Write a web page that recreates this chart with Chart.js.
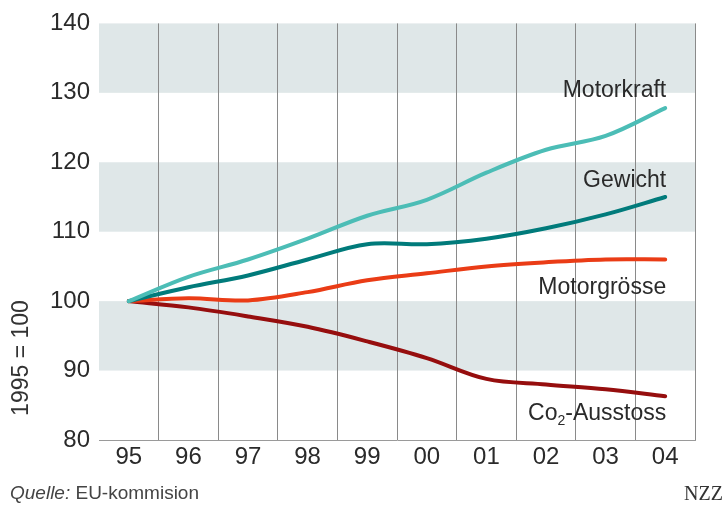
<!DOCTYPE html>
<html>
<head>
<meta charset="utf-8">
<script src="https://cdn.jsdelivr.net/npm/chart.js@4/dist/chart.umd.min.js"></script>
<style>
  html, body { margin: 0; padding: 0; background: #fff; }
  #c { display: block; }
</style>
</head>
<body>
<canvas id="c" width="727" height="507"></canvas>
<script>
const years = ['95', '96', '97', '98', '99', '00', '01', '02', '03', '04'];
const motorkraft = [100, 103.5, 106, 109, 112.3, 114.6, 118.5, 121.8, 123.8, 127.8];
const gewicht = [100, 102, 103.7, 106, 108.2, 108.2, 109, 110.5, 112.5, 115];
const motorgroesse = [100, 100.4, 100.1, 101.3, 103, 104, 105, 105.6, 106, 106];
const co2 = [100, 99.1, 97.8, 96.3, 94.2, 91.8, 88.8, 88, 87.3, 86.3];
const yTicks = [80, 90, 100, 110, 120, 130, 140];
const bands = [[90, 100], [110, 120], [130, 140]];
const seriesLabels = ['Motorkraft', 'Gewicht', 'Motorgrösse', 'Co|2|-Ausstoss'];

const SANS = '"Liberation Sans", Arial, sans-serif';

const bandPlugin = {
  id: 'bands',
  beforeDraw(chart) {
    const { ctx, chartArea, scales } = chart;
    ctx.save();
    ctx.fillStyle = '#dfe7e8';
    bands.forEach(([a, b]) => {
      const y1 = scales.y.getPixelForValue(b);
      const y2 = scales.y.getPixelForValue(a);
      ctx.fillRect(chartArea.left, y1, chartArea.right - chartArea.left, y2 - y1);
    });
    ctx.restore();
  }
};

const textPlugin = {
  id: 'texts',
  afterDraw(chart) {
    const { ctx, scales } = chart;
    const xr = scales.x.getPixelForValue(years.length - 1) + 1;
    ctx.save();
    ctx.fillStyle = '#2a2a2a';
    ctx.textBaseline = 'middle';
    ctx.textAlign = 'right';
    ctx.font = '23px ' + SANS;
    // label anchor positions (value units)
    const anchors = [130.3, 117.3, 102.0, 83.8];
    anchors.forEach((v, i) => {
      const y = scales.y.getPixelForValue(v);
      const lab = seriesLabels[i];
      if (lab.includes('|')) {
        const parts = lab.split('|');
        ctx.font = '23px ' + SANS;
        const w3 = ctx.measureText(parts[2]).width;
        ctx.font = '14px ' + SANS;
        const w2 = ctx.measureText(parts[1]).width;
        ctx.font = '23px ' + SANS;
        ctx.fillText(parts[2], xr, y);
        ctx.font = '14px ' + SANS;
        ctx.fillText(parts[1], xr - w3, y + 8);
        ctx.font = '23px ' + SANS;
        ctx.fillText(parts[0], xr - w3 - w2, y);
      } else {
        ctx.fillText(lab, xr, y);
      }
    });
    // y axis title
    ctx.save();
    ctx.translate(22, 358);
    ctx.rotate(-Math.PI / 2);
    ctx.textAlign = 'center';
    ctx.font = '23px ' + SANS;
    ctx.fillStyle = '#333';
    ctx.fillText('1995 = 100', 0, 0);
    ctx.restore();
    // source
    ctx.textAlign = 'left';
    ctx.fillStyle = '#444';
    ctx.font = 'italic 19px ' + SANS;
    ctx.fillText('Quelle:', 10, 494);
    const wq = ctx.measureText('Quelle: ').width;
    ctx.font = '19px ' + SANS;
    ctx.fillText('EU-kommision', 10 + wq, 494);
    ctx.textAlign = 'right';
    ctx.fillStyle = '#333';
    ctx.font = '20px "Liberation Serif", serif';
    ctx.fillText('NZZ', 723, 495);
    ctx.restore();
  }
};

const mk = (label, data, color) => ({
  label, data, borderColor: color, backgroundColor: color,
  borderWidth: 4, pointRadius: 0, tension: 0.35, fill: false,
  borderCapStyle: 'round', borderJoinStyle: 'round'
});

new Chart(document.getElementById('c'), {
  type: 'line',
  data: {
    labels: years,
    datasets: [
      mk('Motorkraft', motorkraft, '#4cbdb6'),
      mk('Gewicht', gewicht, '#017b7b'),
      mk('Motorgrösse', motorgroesse, '#ea3c16'),
      mk('Co2-Ausstoss', co2, '#960e0e')
    ]
  },
  options: {
    responsive: false,
    animation: false,
    devicePixelRatio: 1,
    layout: { padding: { top: 20, right: 32, left: 0, bottom: 0 } },
    plugins: { legend: { display: false }, tooltip: { enabled: false } },
    scales: {
      x: {
        offset: true,
        afterFit(s) { s.height = 67; },
        grid: {
          offset: true,
          drawTicks: false,
          color: (c) => (c.index === 0 || c.index === years.length) ? 'rgba(0,0,0,0)' : '#8a8a8a',
          lineWidth: 1
        },
        border: { display: true, color: '#9a9a9a', width: 1 },
        ticks: { color: '#2a2a2a', font: { family: SANS, size: 24 }, padding: 3, maxRotation: 0 }
      },
      y: {
        min: 80, max: 140,
        afterFit(s) { s.width = 99; },
        afterBuildTicks(s) { s.ticks = yTicks.map(v => ({ value: v })); },
        grid: { display: false, drawTicks: false },
        border: { display: false },
        ticks: { color: '#2a2a2a', font: { family: SANS, size: 24 }, padding: 9 }
      }
    }
  },
  plugins: [bandPlugin, textPlugin]
});
</script>
</body>
</html>
